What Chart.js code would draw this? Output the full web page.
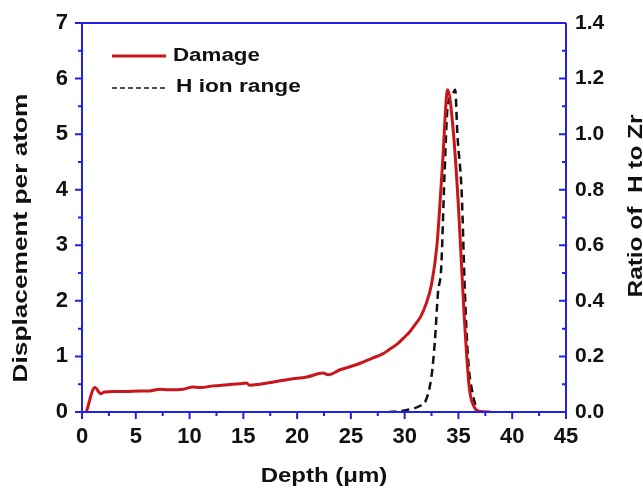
<!DOCTYPE html>
<html>
<head>
<meta charset="utf-8">
<script src="https://cdn.jsdelivr.net/npm/chart.js@4"></script>
<style>
  html, body { margin: 0; padding: 0; background: #fff; }
  #wrap { width: 643px; height: 489px; }
</style>
</head>
<body>
<div id="wrap"><canvas id="chartLine" width="643" height="489"></canvas></div>
<script>
// depth in micrometres, damage in dpa (left axis)
const damageDepth = [0.4, 1.2, 1.75, 2.1, 3, 4, 5.4, 6.3, 7.2, 8, 9.4, 10.3, 11, 12.2, 13.5, 14.7, 15.3, 15.6, 16.5, 17.8,
  19.3, 20.9, 22.4, 22.9, 24, 25.5, 27, 28, 28.6, 29.3, 30, 30.5, 31, 31.5, 32, 32.5, 33, 33.5, 34, 34.5, 35, 35.5, 36, 36.5, 37, 38];
const damage = [0, 0.44, 0.33, 0.36, 0.37, 0.37, 0.38, 0.38, 0.41, 0.40, 0.41, 0.45, 0.44, 0.47, 0.49, 0.51, 0.52, 0.48, 0.50, 0.54,
  0.59, 0.63, 0.70, 0.67, 0.76, 0.85, 0.97, 1.05, 1.13, 1.22, 1.35, 1.45, 1.58, 1.72, 1.95, 2.3, 3.0, 4.4, 5.8, 5.1, 3.7, 1.85, 0.45, 0.08, 0.01, 0];

// H to Zr ratio (right axis)
const hDepth = [28.5, 29.5, 30.5, 31.3, 32, 32.5, 32.8, 33.1, 33.4, 33.7, 34, 34.4, 34.7, 34.9, 35.3, 35.6, 35.9, 36.3, 36.8];
const hRatio = [0, 0.003, 0.01, 0.02, 0.045, 0.13, 0.25, 0.43, 0.52, 0.85, 1.1, 1.14, 1.16, 1.0, 0.79, 0.43, 0.19, 0.07, 0];

const xTicks = [0, 5, 10, 15, 20, 25, 30, 35, 40, 45];
const yTicks = [0, 1, 2, 3, 4, 5, 6, 7];
const y2Ticks = [0, 0.2, 0.4, 0.6, 0.8, 1.0, 1.2, 1.4];

const AXIS_BLUE = '#2020e8';
const FONT = '"Liberation Sans", Arial, sans-serif';

const toPoints = (xs, ys) => xs.map((x, i) => ({ x: x, y: ys[i] }));

// the source figure's lettering is wider than Liberation, so stretch it
function wideText(c, text, x, y, sx, rot) {
  c.save();
  c.translate(x, y);
  c.rotate(rot);
  c.scale(sx, 1);
  c.fillText(text, 0, 0);
  c.restore();
}

// ticks (major + minor), axis frame, titles and legend
const axisDeco = {
  id: 'axisDeco',
  afterDraw(chart) {
    const c = chart.ctx, a = chart.chartArea;
    const sx = chart.scales.x, sy = chart.scales.y, sy2 = chart.scales.y2;
    c.save();
    c.strokeStyle = AXIS_BLUE;
    c.lineWidth = 2;
    c.beginPath();
    c.moveTo(a.left, a.top); c.lineTo(a.right, a.top);
    c.moveTo(a.left, a.bottom); c.lineTo(a.right, a.bottom);
    c.moveTo(a.left, a.top); c.lineTo(a.left, a.bottom);
    c.moveTo(a.right, a.top); c.lineTo(a.right, a.bottom);
    for (let v = 0; v <= 45; v += 2.5) {
      const p = sx.getPixelForValue(v);
      const len = v % 5 === 0 ? 7 : 4;
      c.moveTo(p, a.bottom); c.lineTo(p, a.bottom + len);
    }
    for (let v = 0; v <= 7; v += 0.5) {
      const p = sy.getPixelForValue(v);
      const len = v % 1 === 0 ? 7 : 4;
      c.moveTo(a.left, p); c.lineTo(a.left - len, p);
    }
    for (let i = 0; i <= 14; i++) {
      const p = sy2.getPixelForValue(i / 10);
      const len = i % 2 === 0 ? 7 : 4;
      c.moveTo(a.right, p); c.lineTo(a.right - len, p);
    }
    c.stroke();

    // axis titles
    c.fillStyle = '#111';
    c.textAlign = 'center';
    c.textBaseline = 'middle';
    c.font = 'bold 20px ' + FONT;
    wideText(c, 'Depth (\u03bcm)', (a.left + a.right) / 2, 476, 1.2, 0);
    c.font = 'bold 21px ' + FONT;
    wideText(c, 'Displacement per atom', 21, 238, 1.25, -Math.PI / 2);
    c.font = 'bold 20px ' + FONT;
    wideText(c, 'Ratio of  H to Zr', 636, 206, 1.22, -Math.PI / 2);

    // legend
    c.font = 'bold 18px ' + FONT;
    c.textAlign = 'left';
    c.lineWidth = 3;
    c.strokeStyle = '#c8161c';
    c.beginPath(); c.moveTo(112, 56); c.lineTo(166, 56); c.stroke();
    wideText(c, 'Damage', 173, 56, 1.24, 0);
    c.lineWidth = 1.5;
    c.strokeStyle = '#111';
    c.setLineDash([5, 3]);
    c.beginPath(); c.moveTo(112, 88); c.lineTo(166, 88); c.stroke();
    c.setLineDash([]);
    wideText(c, 'H ion range', 176, 87, 1.26, 0);
    c.restore();
  }
};

const ctx = document.getElementById('chartLine').getContext('2d');

const chart = new Chart(ctx, {
  type: 'line',
  data: {
    datasets: [{
      label: 'Damage',
      data: toPoints(damageDepth, damage),
      yAxisID: 'y',
      borderColor: '#c8161c',
      borderWidth: 3,
      pointRadius: 0,
      cubicInterpolationMode: 'monotone'
    },
    {
      label: 'H ion range',
      data: toPoints(hDepth, hRatio),
      yAxisID: 'y2',
      borderColor: '#111',
      borderWidth: 2.5,
      borderDash: [8, 5],
      pointRadius: 0,
      cubicInterpolationMode: 'monotone'
    }]
  },
  options: {
    responsive: false,
    animation: false,
    layout: { padding: { top: 23, left: 0, right: 0, bottom: 0 } },
    plugins: { legend: { display: false }, tooltip: { enabled: false } },
    scales: {
      x: {
        type: 'linear', min: 0, max: 45,
        afterBuildTicks: s => { s.ticks = xTicks.map(v => ({ value: v })); },
        grid: { display: false },
        border: { display: false },
        ticks: { color: '#111', padding: 4, maxRotation: 0, font: { family: FONT, size: 22, weight: 'bold' } },
        afterFit: s => { s.height = 77; }
      },
      y: {
        type: 'linear', position: 'left', min: 0, max: 7,
        afterBuildTicks: s => { s.ticks = yTicks.map(v => ({ value: v })); },
        grid: { display: false },
        border: { display: false },
        ticks: { color: '#111', padding: 6, font: { family: FONT, size: 22, weight: 'bold' } },
        afterFit: s => { s.width = 82; }
      },
      y2: {
        type: 'linear', position: 'right', min: 0, max: 1.4,
        afterBuildTicks: s => { s.ticks = y2Ticks.map(v => ({ value: v })); },
        grid: { display: false },
        border: { display: false },
        ticks: { color: '#111', padding: 1, font: { family: FONT, size: 21, weight: 'bold' },
          callback: v => v.toFixed(1) },
        afterFit: s => { s.width = 77; }
      }
    }
  },
  plugins: [axisDeco]
});
</script>
</body>
</html>
